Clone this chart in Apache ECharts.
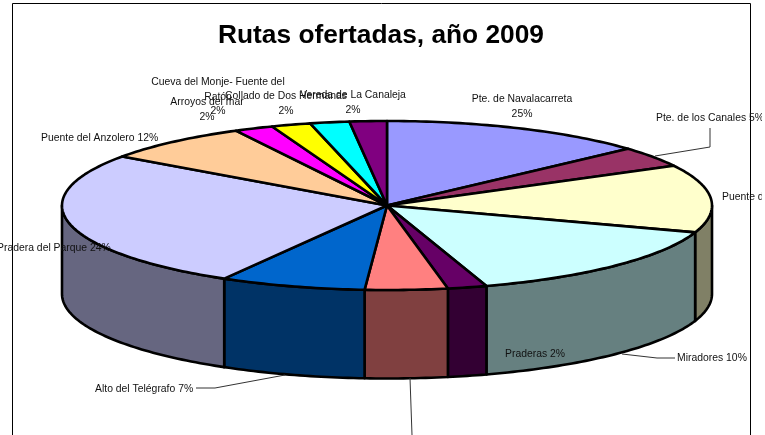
<!DOCTYPE html>
<html lang="es">
<head>
    <meta charset="UTF-8">
    <title>Rutas ofertadas, año 2009</title>
    <style>
        *{
            padding:0;
            margin:0;
        }
    </style>
    <script type="text/javascript" src="https://cdn.jsdelivr.net/npm/echarts@6/dist/echarts.min.js"></script>
</head>
<body>
    <div id="main" style="width:765px;height:435px;"></div>
    <script type="text/javascript">
    // slices, clockwise from 12 o'clock
    var categories = ['Pte. de Navalacarreta', 'Pte. de los Canales', 'Puente d', 'Miradores', 'Praderas', '',
        'Alto del Telégrafo', 'Pradera del Parque', 'Puente del Anzolero', 'Arroyos del mar',
        'Cueva del Monje- Fuente del Ratón', 'Collado de Dos Hermanas', 'Vereda de La Canaleja'];
    // sweep of each slice as drawn
    var values = [13.3, 3.9, 12.95, 14.9, 1.95, 4.1, 7.25, 26.5, 7.45, 1.95, 1.95, 1.95, 1.85];
    // the percentages printed next to the slices
    var printedPercents = ['25%', '5%', '', '10%', '2%', '', '7%', '24%', '12%', '2%', '2%', '2%', '2%'];
    var colors = ['#9999FF', '#993366', '#FFFFCC', '#CCFFFF', '#660066', '#FF8080',
        '#0066CC', '#CCCCFF', '#FFCC99', '#FF00FF', '#FFFF00', '#00FFFF', '#800080'];

    var CX = 387, CY = 205.5, RX = 325, RY = 84.5, DEPTH = 88.5;

    // label text per slice index -> where it sits
    var labelSpots = [
        { x: 522, y: 92, align: 'center', text: categories[0] + '\n' + printedPercents[0] },
        { x: 656, y: 111, align: 'left', text: categories[1] + ' ' + printedPercents[1] },
        { x: 722, y: 190, align: 'left', text: categories[2] },
        { x: 677, y: 351, align: 'left', text: categories[3] + ' ' + printedPercents[3] },
        { x: 505, y: 347, align: 'left', text: categories[4] + ' ' + printedPercents[4] },
        { x: 95, y: 382, align: 'left', text: categories[6] + ' ' + printedPercents[6] },
        { x: -3, y: 241, align: 'left', text: categories[7] + ' ' + printedPercents[7] },
        { x: 41, y: 131, align: 'left', text: categories[8] + ' ' + printedPercents[8] },
        { x: 207, y: 95, align: 'center', text: categories[9] + '\n' + printedPercents[9] },
        { x: 218, y: 75, align: 'center', text: 'Cueva del Monje- Fuente del\nRatón\n' + printedPercents[10] },
        { x: 286, y: 89, align: 'center', text: categories[11] + '\n' + printedPercents[11] },
        { x: 353, y: 88, align: 'center', text: categories[12] + '\n' + printedPercents[12] }
    ];

    var leaderLines = [
        [[710, 128], [710, 147], [655, 156]],
        [[622, 354], [657, 358], [675, 358]],
        [[196, 388], [215, 388], [285, 375]],
        [[410, 378], [412, 435]]
    ];

    var total = values.reduce(function (a, b) { return a + b; }, 0);
    var acc = 0;
    var sliceData = values.map(function (v, i) {
        var start = acc / total * 360;
        acc += v;
        return { name: categories[i], value: [start, acc / total * 360] };
    });

    function rimPoint(deg, drop) {
        var t = deg * Math.PI / 180;
        return [CX + RX * Math.sin(t), CY - RY * Math.cos(t) + drop];
    }

    function arcPoints(from, to, drop) {
        var pts = [];
        var n = Math.max(2, Math.ceil(to - from));
        for (var i = 0; i <= n; i++) {
            pts.push(rimPoint(from + (to - from) * i / n, drop));
        }
        return pts;
    }

    // half of each channel, the shaded wall of the slice
    function shade(hex) {
        var n = parseInt(hex.slice(1), 16);
        return 'rgb(' + (n >> 16 & 255) / 2 + ',' + (n >> 8 & 255) / 2 + ',' + (n & 255) / 2 + ')';
    }

    function renderSlice(params, api) {
        var start = api.value(0), end = api.value(1);
        var color = colors[params.dataIndex];
        var children = [];
        var outline = { stroke: '#000', lineWidth: 2.6, lineJoin: 'round' };

        // wall, only on the front half of the rim
        var from = Math.max(start, 90), to = Math.min(end, 270);
        if (to > from) {
            children.push({
                type: 'polygon',
                shape: { points: arcPoints(from, to, 0).concat(arcPoints(from, to, DEPTH).reverse()) },
                style: Object.assign({ fill: shade(color) }, outline)
            });
        }
        children.push({
            type: 'polygon',
            shape: { points: [[CX, CY]].concat(arcPoints(start, end, 0)) },
            style: Object.assign({ fill: color }, outline)
        });
        return { type: 'group', children: children };
    }

    var graphics = [{
        type: 'rect',
        z: 0,
        silent: true,
        shape: { x: 12.5, y: 3.5, width: 738, height: 460 },
        style: { fill: '#fff', stroke: '#000', lineWidth: 1 }
    }];

    leaderLines.forEach(function (pts) {
        graphics.push({
            type: 'polyline',
            z: 5,
            silent: true,
            shape: { points: pts },
            style: { fill: null, stroke: '#333', lineWidth: 1 }
        });
    });

    labelSpots.forEach(function (s) {
        graphics.push({
            type: 'text',
            z: 10,
            silent: true,
            x: s.x,
            y: s.y,
            style: {
                text: s.text,
                fill: '#111',
                font: '10.4px "Liberation Sans"',
                lineHeight: 14.5,
                align: s.align,
                verticalAlign: 'top'
            }
        });
    });

    // the source picture stops at x=762, labels get cut there
    graphics.push({
        type: 'rect',
        z: 20,
        silent: true,
        shape: { x: 762, y: 0, width: 3, height: 435 },
        style: { fill: '#fff' }
    });

    var myChart = echarts.init(document.getElementById('main'));

    var option = {
        animation: false,
        backgroundColor: '#fff',
        title: {
            text: 'Rutas ofertadas, año 2009',
            left: 376,
            top: 18,
            textAlign: 'center',
            textStyle: {
                fontFamily: 'Liberation Sans',
                fontWeight: 'bold',
                fontSize: 26.3,
                color: '#000'
            }
        },
        graphic: graphics,
        series: [{
            type: 'custom',
            coordinateSystem: 'none',
            silent: true,
            z: 2,
            renderItem: renderSlice,
            data: sliceData
        }]
    };

    myChart.setOption(option);
    </script>
</body>
</html>
